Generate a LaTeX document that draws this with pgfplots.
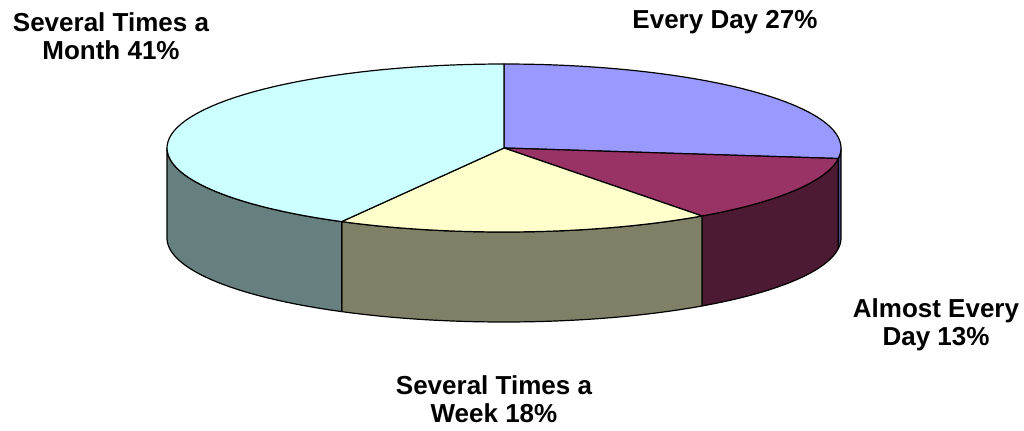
\documentclass[border=0pt]{standalone}
\usepackage{pgfplots}
\pgfplotsset{compat=1.18}
\usepackage{fontspec}
\setmainfont{Liberation Sans}
\definecolor{edTop}{HTML}{9999FF}
\definecolor{edSide}{HTML}{4C4C80}
\definecolor{aeTop}{HTML}{993366}
\definecolor{aeSide}{HTML}{4D1A33}
\definecolor{wkTop}{HTML}{FFFFCC}
\definecolor{wkSide}{HTML}{808066}
\definecolor{moTop}{HTML}{CCFFFF}
\definecolor{moSide}{HTML}{668080}
% pie geometry (pixel units): centre (504,282), radii 337 x 84, depth 90
\newcommand{\topslice}[3]{%
  \addplot[fill=#3, draw=black, line width=0.6pt, line join=round,
    samples at={-1,0,1,...,60,61}, variable=\t]
  ({(\t<0 || \t>60) ? 504 : 504+337*sin(3.6*(#1+(#2-#1)*\t/60))},
   {(\t<0 || \t>60) ? 282 : 282+84*cos(3.6*(#1+(#2-#1)*\t/60))});
}
\newcommand{\sideslice}[3]{%
  \addplot[fill=#3, draw=black, line width=0.6pt, line join=round,
    samples at={0,1,...,60,61,62,...,121,122}, variable=\t]
  ({504+337*sin(3.6*((\t<60.5) ? (#1+(#2-#1)*\t/60) : ((\t<121.5) ? (#2-(#2-#1)*(\t-61)/60) : #1)))},
   {282+84*cos(3.6*((\t<60.5) ? (#1+(#2-#1)*\t/60) : ((\t<121.5) ? (#2-(#2-#1)*(\t-61)/60) : #1)))
     - (((\t>60.5) && (\t<121.5)) ? 90 : 0)});
}
\begin{document}
\begin{tikzpicture}
\begin{axis}[hide axis, scale only axis, width=512pt, height=215pt,
  xmin=0, xmax=1024, ymin=0, ymax=430, clip=false]
\addplot[draw=none] coordinates {(0,0) (1024,430)};
% shares (percent): Every Day 27, Almost Every Day 13, Several Times a Week 18, Several Times a Month 41
% visible side faces (front half, 25%..75%)
\sideslice{25}{27}{edSide}
\sideslice{27}{40}{aeSide}
\sideslice{40}{58}{wkSide}
\sideslice{58}{75}{moSide}
% top faces
\topslice{0}{27}{edTop}
\topslice{27}{40}{aeTop}
\topslice{40}{58}{wkTop}
\topslice{58}{100}{moTop}
\tikzset{lbl/.style={anchor=north, align=center, inner sep=0pt,
  font=\fontsize{13}{14}\selectfont\bfseries}}
\node[lbl] at (axis cs:111,418) {Several Times a\\Month 41\%};
\node[lbl] at (axis cs:725,420) {Every Day 27\%};
\node[lbl] at (axis cs:936,132) {Almost Every\\Day 13\%};
\node[lbl] at (axis cs:494,55) {Several Times a\\Week 18\%};
\end{axis}
\end{tikzpicture}
\end{document}
